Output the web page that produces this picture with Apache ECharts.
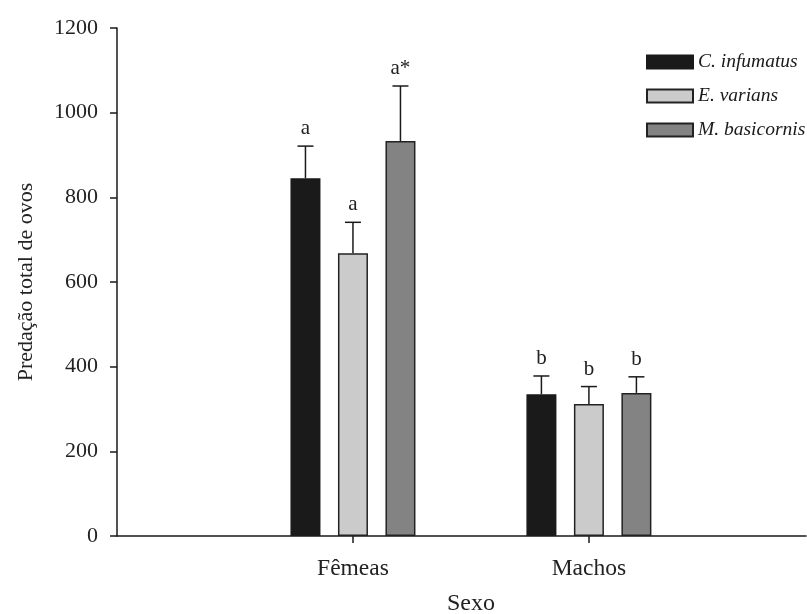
<!DOCTYPE html>
<html>
<head>
<meta charset="utf-8">
<script src="https://cdn.jsdelivr.net/npm/echarts@6/dist/echarts.min.js"></script>
<style>html,body{margin:0;padding:0;background:#fff;}#chart{width:807px;height:614px;}</style>
</head>
<body>
<div id="chart"></div>
<script>
// ---- data ----
var categories = ['Fêmeas', 'Machos'];
var categoryPos = [1, 2];
var seriesNames = ['C. infumatus', 'E. varians', 'M. basicornis'];
var meanCInfumatus = [845, 335];
var meanEVarians = [668, 312];
var meanMBasicornis = [933, 338];
var upperCInfumatus = [921, 378];
var upperEVarians = [741, 353];
var upperMBasicornis = [1063, 376];
var lettersCInfumatus = ['a', 'b'];
var lettersEVarians = ['a', 'b'];
var lettersMBasicornis = ['a*', 'b'];
var yTicks = [0, 200, 400, 600, 800, 1000, 1200];

// ---- build ----
var FONT = 'Liberation Serif';
var colors = ['#1a1a1a', '#cbcbcb', '#838383'];
var borders = ['#1a1a1a', '#222222', '#222222'];
var means = [meanCInfumatus, meanEVarians, meanMBasicornis];
var uppers = [upperCInfumatus, upperEVarians, upperMBasicornis];
var letters = [lettersCInfumatus, lettersEVarians, lettersMBasicornis];
var barW = 30, gapPx = 17.5;
var xMax = 2.92;

var series = [];
seriesNames.forEach(function (name, i) {
  series.push({
    name: name, type: 'bar',
    data: categoryPos.map(function (p, k) { return [p, means[i][k]]; }),
    barWidth: barW, barGap: (gapPx / barW * 100) + '%',
    itemStyle: { color: colors[i], borderColor: borders[i], borderWidth: 1.5 },
    z: 2
  });
});
seriesNames.forEach(function (name, i) {
  var d = categoryPos.map(function (p, k) { return [p, means[i][k], uppers[i][k], letters[i][k]]; });
  var off = (i - 1) * (barW + gapPx);
  series.push({
    type: 'custom', data: d, z: 3, silent: true,
    renderItem: function (params, api) {
      var p0 = api.coord([api.value(0), api.value(1)]);
      var p1 = api.coord([api.value(0), api.value(2)]);
      var x = p0[0] + off;
      return {
        type: 'group', children: [
          { type: 'line', shape: { x1: x, y1: p0[1], x2: x, y2: p1[1] }, style: { stroke: '#1a1a1a', lineWidth: 1.5 } },
          { type: 'line', shape: { x1: x - 8, y1: p1[1], x2: x + 8, y2: p1[1] }, style: { stroke: '#1a1a1a', lineWidth: 1.5 } },
          { type: 'text', style: { x: x, y: p1[1] - 7, text: api.value(3), textAlign: 'center', textVerticalAlign: 'bottom', font: '21px "' + FONT + '"', fill: '#222' } }
        ]
      };
    },
    encode: { x: 0, y: 1 }
  });
});

var chart = echarts.init(document.getElementById('chart'), null, { renderer: 'canvas' });
chart.setOption({
  animation: false,
  backgroundColor: '#ffffff',
  textStyle: { fontFamily: FONT },
  grid: { left: 117, top: 28, bottom: 78, right: 1, containLabel: false },
  legend: {
    data: seriesNames.map(function (n) { return { name: n, icon: 'rect' }; }),
    orient: 'vertical', left: 641, top: 47,
    itemWidth: 46, itemHeight: 13, itemGap: 14,
    textStyle: { fontFamily: FONT, fontStyle: 'italic', fontSize: 19.5, color: '#1a1a1a', padding: [0, 0, 0, 0] },
    selectedMode: false
  },
  xAxis: {
    type: 'value', min: 0, max: xMax, interval: 1,
    axisLine: { lineStyle: { color: '#1a1a1a', width: 1.5 } },
    axisTick: { show: true, length: 7, lineStyle: { color: '#1a1a1a', width: 1.5 }, customValues: categoryPos },
    axisLabel: {
      fontFamily: FONT, fontSize: 23.5, color: '#222', margin: 21, customValues: categoryPos,
      formatter: function (v) { var k = categoryPos.indexOf(Math.round(v)); return k >= 0 ? categories[k] : ''; }
    },
    splitLine: { show: false }
  },
  yAxis: {
    type: 'value', min: yTicks[0], max: yTicks[yTicks.length - 1], interval: yTicks[1] - yTicks[0],
    name: 'Predação total de ovos', nameLocation: 'middle', nameGap: 80, nameRotate: 90,
    nameTextStyle: { fontFamily: FONT, fontSize: 22, color: '#222' },
    axisLine: { show: true, lineStyle: { color: '#1a1a1a', width: 1.5 } },
    axisTick: { show: true, length: 7, lineStyle: { color: '#1a1a1a', width: 1.5 } },
    axisLabel: { fontFamily: FONT, fontSize: 22, color: '#222', margin: 19, formatter: function (v) { return String(v); } },
    splitLine: { show: false }
  },
  graphic: [{
    type: 'text', left: 447, top: 592,
    style: { text: 'Sexo', font: '24px "' + FONT + '"', fill: '#222' }
  }],
  series: series
});
</script>
</body>
</html>
